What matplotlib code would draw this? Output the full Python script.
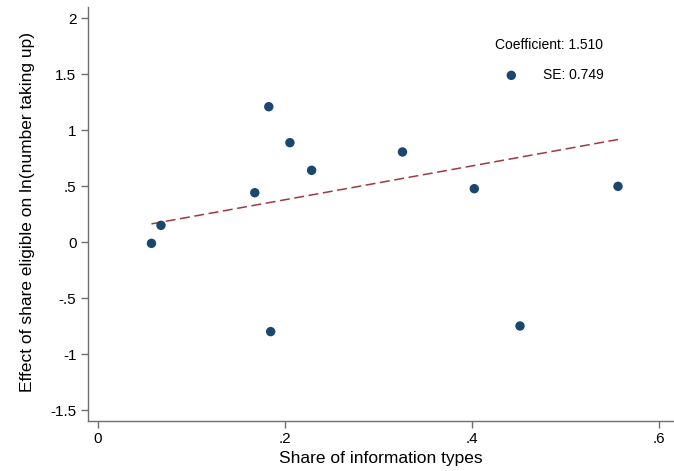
import matplotlib
matplotlib.use("Agg")
import matplotlib.pyplot as plt
import numpy as np

# Data
share_info = [0.0575, 0.0677, 0.168, 0.183, 0.185, 0.2056, 0.2288, 0.326, 0.4028, 0.4517, 0.5565]
effect = [-0.012, 0.149, 0.440, 1.208, -0.800, 0.887, 0.640, 0.804, 0.476, -0.750, 0.497]
fit_intercept = 0.075
fit_slope = 1.510
coef_text = "Coefficient: 1.510"
se_text = "SE: 0.749"
xticks = [0, 0.2, 0.4, 0.6]
xticklabels = ["0", ".2", ".4", ".6"]
yticks = [-1.5, -1, -0.5, 0, 0.5, 1, 1.5, 2]
yticklabels = ["-1.5", "-1", "-.5", "0", ".5", "1", "1.5", "2"]

plt.rcParams['font.family'] = ['Liberation Sans', 'DejaVu Sans']

W, H = 674, 471
fig = plt.figure(figsize=(W / 100, H / 100), dpi=100)
left, right, top, bottom = 87.6, 674, 6.7, 420.7
ax = fig.add_axes([left / W, 1 - bottom / H, (right - left) / W, (bottom - top) / H])

navy = '#1a476f'
maroon = '#a0393f'
spine_gray = '#6e6e6e'

sc = ax.scatter(share_info, effect, s=46, color=navy, edgecolors='none', zorder=3, label=se_text)
xs = np.array([min(share_info), max(share_info)])
ax.plot(xs, fit_intercept + fit_slope * xs, color=maroon, lw=1.1,
        linestyle=(0, (6.5, 3.0)), zorder=2)

ax.set_xlim(-0.0108, 0.6164)
ax.set_ylim(-1.5955, 2.101)
ax.set_xticks(xticks)
ax.set_xticklabels(xticklabels)
ax.set_yticks(yticks)
ax.set_yticklabels(yticklabels)

for s in ['top', 'right']:
    ax.spines[s].set_visible(False)
for s in ['left', 'bottom']:
    ax.spines[s].set_color(spine_gray)
    ax.spines[s].set_linewidth(1.0)
ax.tick_params(axis='both', direction='out', length=5, width=1.0, color=spine_gray,
               labelsize=11, labelcolor='black', pad=3)

ax.set_xlabel("Share of information types", fontsize=12.5, labelpad=4)
ax.set_ylabel("Effect of share eligible on ln(number taking up)", fontsize=12.5)
ax.yaxis.set_label_coords(28 / W, 1 - 212 / H, transform=fig.transFigure)
ax.yaxis.label.set_va('center')

# Legend-like annotation (Stata style)
fig.text(549 / W, 1 - 45 / H, coef_text, fontsize=10, ha='center', va='center')
leg = ax.legend(handles=[sc], labels=[se_text], frameon=False,
                loc='center right', bbox_to_anchor=(604 / W, 1 - 75 / H),
                bbox_transform=fig.transFigure, fontsize=10,
                handlelength=1.0, handletextpad=1.8, borderpad=0, borderaxespad=0,
                scatterpoints=1)

fig.savefig("out.png", dpi=100, facecolor='white')
